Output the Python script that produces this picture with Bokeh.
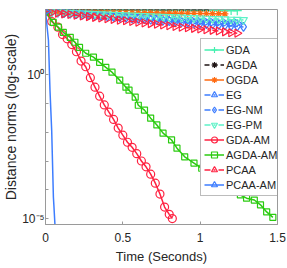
import math
from bokeh.plotting import figure
from bokeh.models import Legend, LegendItem, FixedTicker, CustomJSTickFormatter, Range1d
from bokeh.embed import file_html
from bokeh.resources import INLINE

# ---------------- data ----------------
T_FLAT = [0.00, 0.04, 0.08, 0.12, 0.16, 0.20, 0.24, 0.28, 0.32, 0.36, 0.40,
          0.44, 0.48, 0.52, 0.56, 0.60, 0.64, 0.68, 0.72, 0.76, 0.80, 0.84,
          0.88, 0.92, 0.96, 1.00, 1.04, 1.08, 1.12, 1.16, 1.20, 1.24, 1.28]

GDA = [160, 176, 175, 177, 174, 176, 175, 173, 175, 174, 176, 173, 174, 175, 173, 172,
       174, 173, 172, 174, 171, 173, 172, 171, 172, 170, 171, 172, 170, 171, 170, 169]
AGDA = [160, 205, 210, 208, 211, 209, 212, 210, 208, 211, 209, 210, 212, 209, 211, 208,
        210, 209, 211, 210, 208, 210, 209, 211, 210, 209, 210]
OGDA = [158, 156, 155, 154, 152, 152, 151, 149, 149, 148, 146, 146, 145, 144, 144, 143,
        141, 141, 140, 139, 139, 138, 137, 136, 135, 135, 134, 133, 133, 132]
EG = [158, 150, 145, 140, 136, 131, 127, 123, 119, 115, 112, 108, 105, 102, 99, 96,
      93, 90, 87, 85, 82, 80, 77, 75, 73, 71, 69, 67, 66, 64, 63, 62]
EG_NM = [158, 150, 144, 139, 134, 129, 124, 119, 115, 110, 106, 102, 98, 95, 91, 88,
         85, 82, 79, 76, 73, 70, 67, 65, 62, 60, 58, 56, 54, 52, 50, 48, 46]
EG_PM = [158, 152, 149, 146, 143, 140, 137, 134, 131, 128, 126, 123, 121, 118, 116, 113,
         111, 109, 107, 104, 102, 100, 98, 96, 94, 92, 90, 88, 87, 85, 83, 82, 81]
PCAA = [158, 146, 139, 131, 124, 117, 111, 105, 99, 94, 89, 84, 79, 75, 71, 67,
        63, 60, 57, 54, 51, 48, 45, 43, 41, 39, 37, 35, 33, 31, 29, 28]

T_GDA_AM = [0.00, 0.04, 0.08, 0.11, 0.14, 0.17, 0.20, 0.23, 0.26, 0.29, 0.32, 0.35, 0.38, 0.41,
            0.44, 0.47, 0.50, 0.53, 0.56, 0.59, 0.62, 0.65, 0.68, 0.71, 0.74, 0.77, 0.80, 0.82]
GDA_AM = [158, 71, 45, 25, 17.8, 11.2, 6.3, 3.0, 1.9, 0.79, 0.37, 0.18, 0.089, 0.050,
          0.028, 0.014, 7.9e-3, 4.5e-3, 3.0e-3, 1.8e-3, 1.0e-3, 6.3e-4, 3.5e-4, 1.7e-4,
          7.1e-5, 2.5e-5, 1.4e-5, 1.0e-5]

T_AGDA_AM = [0.00, 0.05, 0.083, 0.115, 0.16, 0.19, 0.22, 0.26, 0.31, 0.35, 0.39, 0.43, 0.48,
             0.52, 0.54, 0.58, 0.60, 0.64, 0.68, 0.72, 0.76, 0.815, 0.85, 0.90, 0.96, 1.01,
             1.06, 1.11, 1.16, 1.21, 1.26, 1.30, 1.35, 1.39, 1.43, 1.47]
AGDA_AM = [158, 66, 45, 30, 20, 13.5, 8.9, 5.6, 4.1, 2.7, 1.8, 1.23, 0.65, 0.37, 0.29,
           0.166, 0.087, 0.059, 0.031, 0.018, 9.3e-3, 5.4e-3, 2.8e-3, 1.4e-3, 8.5e-4,
           5.6e-4, 3.8e-4, 2.4e-4, 1.6e-4, 1.0e-4, 6.6e-5, 5.1e-5, 4.4e-5, 3.0e-5,
           1.7e-5, 1.1e-5]

T_PCAA_AM = [0.000, 0.019, 0.029, 0.040, 0.051, 0.054, 0.062]
PCAA_AM = [158, 15.8, 0.29, 0.0117, 5.6e-5, 3.0e-5, 5.0e-6]

X_TICKS = [0, 0.5, 1, 1.5]
Y_TICKS = [1e1, 1e0, 1e-1, 1e-2, 1e-3, 1e-4, 1e-5]

# ---------------- styling ----------------
FONT = "Liberation Sans"
AX = "#9a9a9a"
TXT = "#262626"
MINT = "#45F0B0"
BLUE = "#3D7DFF"
RED = "#FF2241"
GREEN = "#2BCB10"
ORANGE = "#FF6A10"
DARK = "#1E1414"
DASHDOT = "6 3 2 3"

series = [
    # label, t, y, color, dash, marker, size, angle, n_markers
    ("GDA", T_FLAT[:len(GDA)], GDA, MINT, "solid", "cross", 9, 0.0, None),
    ("AGDA", T_FLAT[:len(AGDA)], AGDA, DARK, "5 3", "asterisk", 7, 0.0, None),
    ("OGDA", T_FLAT[:len(OGDA)], OGDA, ORANGE, "solid", "asterisk", 7, 0.0, None),
    ("EG", T_FLAT[:len(EG)], EG, BLUE, DASHDOT, "triangle", 8, -math.pi / 2, None),
    ("EG-NM", T_FLAT[:len(EG_NM)], EG_NM, BLUE, DASHDOT, "diamond", 9, 0.0, None),
    ("EG-PM", T_FLAT[:len(EG_PM)], EG_PM, "#5DF2C8", DASHDOT, "inverted_triangle", 8, 0.0, None),
    ("GDA-AM", T_GDA_AM, GDA_AM, RED, "solid", "circle", 8, 0.0, None),
    ("AGDA-AM", T_AGDA_AM, AGDA_AM, GREEN, "solid", "square", 6, 0.0, None),
    ("PCAA", T_FLAT[:len(PCAA)], PCAA, RED, DASHDOT, "triangle", 8, -math.pi / 2, None),
    ("PCAA-AM", T_PCAA_AM, PCAA_AM, BLUE, "solid", "triangle", 8, -math.pi / 2, 1),
]

p = figure(width=287, height=268, x_range=Range1d(0, 1.5), y_range=Range1d(6.2e-6, 186),
           y_axis_type="log", output_backend="svg", toolbar_location=None,
           min_border_left=34, min_border_right=10, min_border_top=9, min_border_bottom=44)
p.background_fill_color = "white"
p.border_fill_color = "white"
p.outline_line_color = AX
p.outline_line_width = 1
p.xgrid.visible = False
p.ygrid.visible = False

items = []
for label, t, y, color, dash, marker, size, angle, nm in series:
    lr = p.line(t, y, line_color=color, line_width=1.5, line_dash=dash)
    mt = t if nm is None else t[:nm]
    my = y if nm is None else y[:nm]
    sr = p.scatter(mt, my, marker=marker, size=size, angle=angle, line_color=color,
                   line_width=1.2, fill_color=None)
    items.append(LegendItem(label=label, renderers=[lr, sr]))

xa = p.xaxis[0]
ya = p.yaxis[0]
xa.ticker = FixedTicker(ticks=X_TICKS)
xa.formatter = CustomJSTickFormatter(code="return String(tick);")
ya.ticker = FixedTicker(ticks=Y_TICKS)
ya.formatter = CustomJSTickFormatter(code="""
const e = Math.round(Math.log10(tick));
if (e === 0) return "10\\u2070";
if (e === -5) return "10\\u207B\\u2075";
return " ";
""")
xa.axis_label = "Time (Seconds)"
ya.axis_label = "Distance norms (log-scale)"
for ax, lsize in ((xa, "13px"), (ya, "14px")):
    ax.axis_line_color = AX
    ax.major_tick_line_color = AX
    ax.major_tick_in = 3
    ax.major_tick_out = 0
    ax.minor_tick_line_color = None
    ax.major_label_text_font = FONT
    ax.major_label_text_font_size = "12px"
    ax.major_label_text_color = TXT
    ax.axis_label_text_font = FONT
    ax.axis_label_text_font_size = lsize
    ax.axis_label_text_font_style = "normal"
    ax.axis_label_text_color = TXT
xa.major_label_standoff = 8
xa.axis_label_standoff = 4
ya.major_label_standoff = 1
ya.axis_label_standoff = 0

legend = Legend(items=items, location=(155, 28), orientation="vertical",
                label_text_font=FONT, label_text_font_size="11px", label_text_color=TXT,
                glyph_width=20, glyph_height=15, label_height=15, label_standoff=2,
                spacing=0, padding=3, margin=0,
                border_line_color="#7a7a7a", border_line_width=1,
                background_fill_color="white", background_fill_alpha=1.0)
p.add_layout(legend, "center")

open("out.html", "w").write(file_html(p, INLINE))
